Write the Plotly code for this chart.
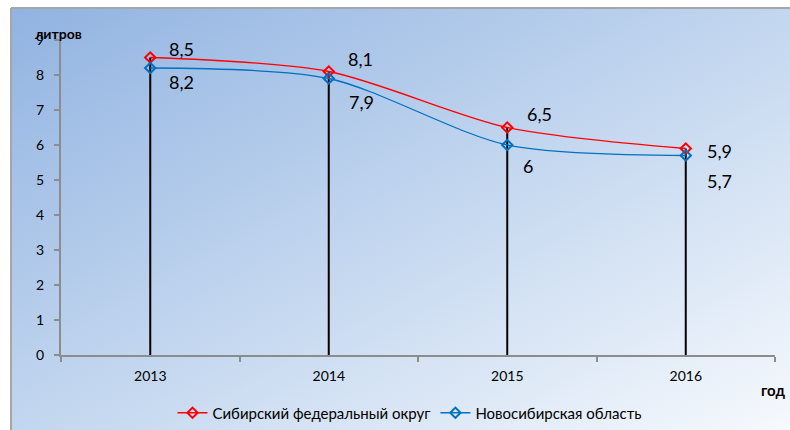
import base64
import plotly.graph_objects as go

years = ["2013", "2014", "2015", "2016"]
sfo = [8.5, 8.1, 6.5, 5.9]          # Сибирский федеральный округ
nso = [8.2, 7.9, 6.0, 5.7]          # Новосибирская область
sfo_name = "Сибирский федеральный округ"
nso_name = "Новосибирская область"
y_ticks = [0, 1, 2, 3, 4, 5, 6, 7, 8, 9]

W, H = 790, 430
ML, MT = 11, 8
PW, PH = W - ML, H - MT
FONT = "Lato, Noto Sans, sans-serif"


def px(x):
    return (x - ML) / PW


def py(y):
    return (H - y) / PH


def fmt(v):
    s = ("%.1f" % v).rstrip("0").rstrip(".")
    return s.replace(".", ",")


svg = (
    '<svg xmlns="http://www.w3.org/2000/svg" width="779" height="422" '
    'preserveAspectRatio="none" viewBox="0 0 779 422">'
    '<defs><linearGradient id="g" x1="0" y1="0" x2="1" y2="1">'
    '<stop offset="0" stop-color="#91b3e1"/>'
    '<stop offset="0.5" stop-color="#c2d6ef"/>'
    '<stop offset="1" stop-color="#f6f9fd"/>'
    '</linearGradient></defs>'
    '<rect width="779" height="422" fill="url(#g)"/></svg>'
)
bg_uri = "data:image/svg+xml;base64," + base64.b64encode(svg.encode()).decode()

fig = go.Figure()

# drop lines from axis to the higher series
dx, dy = [], []
for c, a, b in zip(years, sfo, nso):
    dx += [c, c, None]
    dy += [0, max(a, b), None]
fig.add_trace(go.Scatter(x=dx, y=dy, mode="lines", line=dict(color="black", width=2),
                         showlegend=False, hoverinfo="skip"))

fig.add_trace(go.Scatter(x=years, y=sfo, name=sfo_name, mode="lines+markers",
                         line=dict(color="#ff0000", width=1.3, shape="spline", smoothing=0.8),
                         marker=dict(symbol="diamond-open", size=8, color="#ff0000",
                                     line=dict(width=2, color="#ff0000"))))
fig.add_trace(go.Scatter(x=years, y=nso, name=nso_name, mode="lines+markers",
                         line=dict(color="#0070c0", width=1.3, shape="spline", smoothing=0.8),
                         marker=dict(symbol="diamond-open", size=8, color="#0070c0",
                                     line=dict(width=2, color="#0070c0"))))

# data labels (category axis: annotations positioned by category index)
sfo_off = [(31, 9), (32, 13), (32, 14), (34, -2)]
nso_off = [(31, -14), (33, -23), (21, -21), (34, -25)]
for vals, offs in ((sfo, sfo_off), (nso, nso_off)):
    for i, (v, (ox, oy)) in enumerate(zip(vals, offs)):
        fig.add_annotation(x=i, y=v, xref="x", yref="y", text=fmt(v), showarrow=False,
                           xshift=ox, yshift=oy,
                           font=dict(family=FONT, size=18, color="black"))

fig.add_annotation(x=px(58), y=py(33), xref="paper", yref="paper", text="<b>литров</b>",
                   showarrow=False, xanchor="center", yanchor="middle",
                   font=dict(family=FONT, size=14, color="black"))
fig.add_annotation(x=px(759), y=py(390), xref="paper", yref="paper", text="<b>год</b>",
                   showarrow=False, xanchor="left", yanchor="middle",
                   font=dict(family=FONT, size=15, color="black"))

fig.update_layout(
    width=W, height=H,
    margin=dict(l=ML, r=0, t=MT, b=0, pad=0, autoexpand=False),
    paper_bgcolor="white",
    plot_bgcolor="rgba(0,0,0,0)",
    font=dict(family=FONT, size=14, color="black"),
    images=[dict(source=bg_uri, xref="paper", yref="paper", x=0, y=1, sizex=1, sizey=1,
                 xanchor="left", yanchor="top", sizing="stretch", layer="below")],
    shapes=[
        dict(type="line", xref="paper", yref="paper", x0=0, x1=0, y0=0, y1=1,
             line=dict(color="#a6a6a6", width=2)),
        dict(type="line", xref="paper", yref="paper", x0=0, x1=1, y0=1, y1=1,
             line=dict(color="#a6a6a6", width=2)),
    ],
    xaxis=dict(domain=[px(61), px(775)], type="category", range=[-0.5, 3.5],
               showgrid=False, showline=True, linecolor="#8c8c8c", linewidth=2,
               ticks="outside", tickson="boundaries", ticklen=5, tickcolor="#8c8c8c",
               tickwidth=1.5, tickfont=dict(size=14), zeroline=False, fixedrange=True,
               ticklabelstandoff=7, automargin=False),
    yaxis=dict(domain=[py(355), py(40)], range=[0, 9], tickvals=y_ticks,
               showgrid=False, showline=True, linecolor="#8c8c8c", linewidth=2,
               ticks="outside", ticklen=5, tickcolor="#8c8c8c", tickwidth=1.5,
               tickfont=dict(size=14), zeroline=False, fixedrange=True,
               ticklabelstandoff=7, automargin=False),
    legend=dict(orientation="h", x=px(410), xanchor="center", y=py(413), yanchor="middle",
                bgcolor="rgba(0,0,0,0)", font=dict(size=15), itemwidth=30),
    hovermode=False,
)

fig.write_html("out.html", config={"displayModeBar": False},
               post_script="document.body.style.margin='0';document.body.style.overflow='hidden';")
